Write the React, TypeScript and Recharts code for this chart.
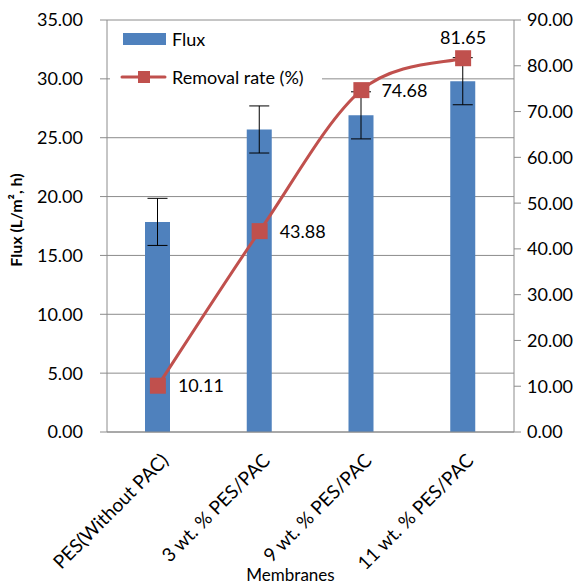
import React from "react";
import {
  ComposedChart,
  Bar,
  Line,
  XAxis,
  YAxis,
  CartesianGrid,
  ErrorBar,
  LabelList,
} from "recharts";

const categories = [
  "PES(Without PAC)",
  "3 wt. % PES/PAC",
  "9 wt. % PES/PAC",
  "11 wt. % PES/PAC",
];
const fluxValues = [17.85, 25.7, 26.9, 29.8];
const fluxErrors = [2.0, 2.0, 2.0, 2.0];
const removalValues = [10.11, 43.88, 74.68, 81.65];
const leftTicks = [0, 5, 10, 15, 20, 25, 30, 35];
const rightTicks = [0, 10, 20, 30, 40, 50, 60, 70, 80, 90];

const data = categories.map((c, i) => ({
  name: c,
  flux: fluxValues[i],
  err: fluxErrors[i],
  removal: removalValues[i],
}));

const FONT = "Lato, 'Open Sans', sans-serif";
const BLUE = "#4F81BD";
const RED = "#C0504D";
const GRAY = "#8C8C8C";

// Excel-like smoothed curve (Catmull-Rom style Bezier)
function excelCurve(context: any) {
  let pts: number[][] = [];
  return {
    areaStart() {},
    areaEnd() {},
    lineStart() {
      pts = [];
    },
    point(x: number, y: number) {
      pts.push([+x, +y]);
    },
    lineEnd() {
      const n = pts.length;
      if (!n) return;
      context.moveTo(pts[0][0], pts[0][1]);
      for (let i = 0; i < n - 1; i++) {
        const p0 = pts[Math.max(i - 1, 0)];
        const p1 = pts[i];
        const p2 = pts[i + 1];
        const p3 = pts[Math.min(i + 2, n - 1)];
        context.bezierCurveTo(
          p1[0] + (p2[0] - p0[0]) / 6,
          p1[1] + (p2[1] - p0[1]) / 6,
          p2[0] - (p3[0] - p1[0]) / 6,
          p2[1] - (p3[1] - p1[1]) / 6,
          p2[0],
          p2[1]
        );
      }
    },
  };
}

const XTick = (props: any) => {
  const { x, y, payload } = props;
  return (
    <g transform={`translate(${x + 7},${y + 17})`}>
      <text
        transform="rotate(-45)"
        textAnchor="end"
        x={0}
        y={0}
        dy="0.35em"
        fontFamily={FONT}
        fontSize={19}
        fill="#000"
      >
        {payload.value}
      </text>
    </g>
  );
};

const SquareDot = (props: any) => {
  const { cx, cy } = props;
  if (cx == null || cy == null) return null;
  const s = 16;
  return <rect x={cx - s / 2} y={cy - s / 2} width={s} height={s} fill={RED} />;
};

const RemovalLabel = (props: any) => {
  const { x, y, value, index } = props;
  const txt = Number(value).toFixed(2);
  if (index === 3) {
    return (
      <text x={x} y={y - 14} textAnchor="middle" fontFamily={FONT} fontSize={18} fill="#000">
        {txt}
      </text>
    );
  }
  return (
    <text x={x + 20} y={y + 2} textAnchor="start" dominantBaseline="middle" fontFamily={FONT} fontSize={18} fill="#000">
      {txt}
    </text>
  );
};

const LegendBox = () => (
  <div
    style={{
      position: "absolute",
      left: 110,
      top: 22,
      width: 212,
      height: 80,
      background: "#fff",
    }}
  >
    <svg width={212} height={80} style={{ position: "absolute", left: 0, top: 0 }}>
      <rect x={13} y={11} width={43} height={12} fill={BLUE} />
      <text x={62} y={24} fontFamily={FONT} fontSize={18} fill="#000">
        Flux
      </text>
      <line x1={12} y1={55} x2={55} y2={55} stroke={RED} strokeWidth={3} strokeLinecap="round" />
      <rect x={28} y={49} width={12} height={12} fill={RED} />
      <text x={62} y={62} fontFamily={FONT} fontSize={18} fill="#000">
        Removal rate (%)
      </text>
    </svg>
  </div>
);

export default function App() {
  return (
    <div style={{ position: "absolute", left: 0, top: 0, width: 581, height: 585, background: "#fff" }}>
      <ComposedChart
        width={581}
        height={585}
        data={data}
        margin={{ top: 20, right: 0, bottom: 0, left: 0 }}
      >
        <CartesianGrid yAxisId="left" vertical={false} stroke={GRAY} strokeWidth={1} />
        <XAxis
          dataKey="name"
          height={153}
          tick={<XTick />}
          tickLine={false}
          axisLine={{ stroke: GRAY, strokeWidth: 1 }}
          interval={0}
          label={{
            content: (p: any) => {
              const vb = p.viewBox || { x: 107, width: 407 };
              return (
                <text
                  x={vb.x + vb.width / 2 - 20}
                  y={581}
                  textAnchor="middle"
                  fontFamily={FONT}
                  fontSize={17}
                  fill="#000"
                >
                  Membranes
                </text>
              );
            },
          }}
        />
        <YAxis
          yAxisId="left"
          orientation="left"
          width={107}
          domain={[0, 35]}
          ticks={leftTicks}
          interval={0}
          tickFormatter={(v: number) => v.toFixed(2)}
          tick={{ fontFamily: FONT, fontSize: 18, fill: "#000" }}
          tickSize={7}
          tickMargin={17}
          tickLine={{ stroke: GRAY }}
          axisLine={{ stroke: GRAY }}
          label={{
            content: () => (
              <text
                transform="translate(22,220) rotate(-90)"
                textAnchor="middle"
                fontFamily={FONT}
                fontSize={16}
                fontWeight="bold"
                fill="#000"
              >
                Flux (L/m², h)
              </text>
            ),
          }}
        />
        <YAxis
          yAxisId="right"
          orientation="right"
          width={67}
          domain={[0, 90]}
          ticks={rightTicks}
          interval={0}
          tickFormatter={(v: number) => v.toFixed(2)}
          tick={{ fontFamily: FONT, fontSize: 18, fill: "#000" }}
          tickSize={7}
          tickMargin={6}
          tickLine={{ stroke: GRAY }}
          axisLine={{ stroke: GRAY }}
        />
        <Bar yAxisId="left" dataKey="flux" name="Flux" fill={BLUE} barSize={25} isAnimationActive={false}>
          <ErrorBar dataKey="err" width={10} stroke="#000" strokeWidth={1} />
        </Bar>
        <Line
          yAxisId="right"
          dataKey="removal"
          name="Removal rate (%)"
          type={excelCurve as any}
          stroke={RED}
          strokeWidth={3}
          dot={<SquareDot />}
          activeDot={false}
          isAnimationActive={false}
        >
          <LabelList dataKey="removal" content={<RemovalLabel />} />
        </Line>
      </ComposedChart>
      <LegendBox />
    </div>
  );
}
